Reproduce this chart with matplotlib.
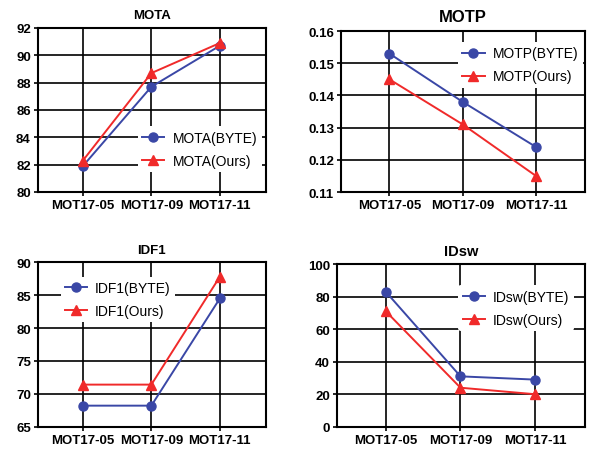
import matplotlib
matplotlib.use('Agg')
import matplotlib.pyplot as plt

plt.rcParams['font.family'] = ['Liberation Sans', 'DejaVu Sans']

# sequences on the x axis
sequences = ['MOT17-05', 'MOT17-09', 'MOT17-11']

# metric values
mota_byte = [81.9, 87.7, 90.7]
mota_ours = [82.3, 88.7, 90.9]
motp_byte = [0.153, 0.138, 0.124]
motp_ours = [0.145, 0.131, 0.115]
idf1_byte = [68.2, 68.2, 84.5]
idf1_ours = [71.4, 71.4, 87.8]
idsw_byte = [83, 31, 29]
idsw_ours = [71, 24, 20]

BLUE = '#3a47a6'
RED = '#f02a2a'

fig = plt.figure(figsize=(5.89, 4.52), dpi=100)
W, H = 589.0, 452.0


def add_axes(x0, y0, x1, y1):
    # pixel box -> figure fraction
    return fig.add_axes([x0 / W, 1 - y1 / H, (x1 - x0) / W, (y1 - y0) / H])


def draw_panel(ax, name, byte_vals, ours_vals, ylim, yticks, yfmt,
               title_size, leg_anchor):
    x = range(len(sequences))
    ax.plot(x, byte_vals, color=BLUE, marker='o', markersize=6.5, lw=1.4,
            label=name + '(BYTE)', zorder=3)
    ax.plot(x, ours_vals, color=RED, marker='^', markersize=6.5, lw=1.4,
            label=name + '(Ours)', zorder=3)
    ax.set_xlim(-0.66, 2.67)
    ax.set_ylim(*ylim)
    ax.set_yticks(yticks)
    ax.set_yticklabels([yfmt.format(v) for v in yticks])
    ax.set_xticks(list(x))
    ax.set_xticklabels(sequences)
    ax.grid(True, color='black', lw=1.2)
    ax.set_axisbelow(True)
    for s in ax.spines.values():
        s.set_linewidth(1.5)
    ax.tick_params(axis='both', direction='out', length=3, width=1.2,
                   labelsize=9.5, pad=2)
    for lbl in ax.get_xticklabels() + ax.get_yticklabels():
        lbl.set_fontweight('bold')
    ax.set_title(name, fontsize=title_size, fontweight='bold', pad=7)
    leg = ax.legend(loc='upper left', bbox_to_anchor=leg_anchor, frameon=True,
                    fontsize=10, handlelength=1.6, handletextpad=0.6,
                    borderpad=0.3, labelspacing=0.65, borderaxespad=0)
    leg.get_frame().set_facecolor('white')
    leg.get_frame().set_edgecolor('none')
    leg.get_frame().set_alpha(1)
    leg.set_zorder(5)


ax1 = add_axes(37.7, 29, 265.7, 193)
draw_panel(ax1, 'MOTA', mota_byte, mota_ours, (80, 92), [80, 82, 84, 86, 88, 90, 92],
           '{:.0f}', 9.5, (0.44, 0.40))

ax2 = add_axes(341, 32, 585, 193)
draw_panel(ax2, 'MOTP', motp_byte, motp_ours, (0.11, 0.16),
           [0.11, 0.12, 0.13, 0.14, 0.15, 0.16], '{:.2f}', 12, (0.48, 0.93))

ax3 = add_axes(37.7, 263.3, 265.7, 427.7)
draw_panel(ax3, 'IDF1', idf1_byte, idf1_ours, (65, 90), [65, 70, 75, 80, 85, 90],
           '{:.0f}', 9.5, (0.10, 0.91))

ax4 = add_axes(336.7, 265.3, 585, 427.7)
draw_panel(ax4, 'IDsw', idsw_byte, idsw_ours, (0, 100), [0, 20, 40, 60, 80, 100],
           '{:.0f}', 10.5, (0.49, 0.87))

fig.savefig('out.png', dpi=100, facecolor='white')
